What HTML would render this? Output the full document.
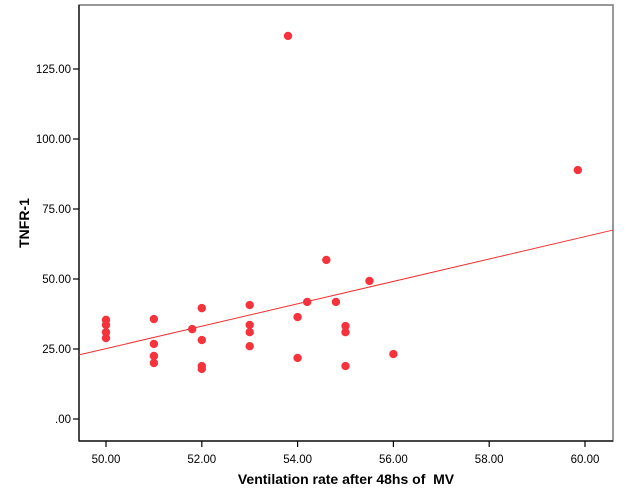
<!DOCTYPE html>
<html><head><meta charset="utf-8"><style>
html,body{margin:0;padding:0;background:#fff;}
svg{display:block;font-family:"Liberation Sans",Arial,sans-serif;}
</style></head><body>
<svg id="chart" width="626" height="501" viewBox="0 0 626 501">
<rect x="0" y="0" width="626" height="501" fill="#fff"/>
<g id="plot"></g>
</svg>
<script>
const xValues=[50,50,50,50,51,51,51,51,51.8,52,52,52,52,53,53,53,53,53.8,54,54,54.2,54.6,54.8,55,55,55,55.5,56,59.85];
const yValues=[35.4,33.6,31,28.9,35.7,26.8,22.5,20,32.1,39.6,28.2,18.9,17.9,40.7,33.6,31,26,136.8,36.4,21.8,41.8,56.8,41.8,33.2,31,18.9,49.3,23.2,88.9];
const xTicks=[50,52,54,56,58,60];
const yTicks=[0,25,50,75,100,125];
const fitSlope=4.0;
const fitIntercept=-174.86;
const ns="http://www.w3.org/2000/svg";
const L=79,R=613,T=5,B=441;
function sx(v){return 106+(v-50)*47.9;}
function sy(v){return 419-v*2.8;}
const g=document.getElementById('plot');
function mk(tag,attrs,parent){const e=document.createElementNS(ns,tag);for(const k in attrs)e.setAttribute(k,attrs[k]);(parent||g).appendChild(e);return e;}
let fr=mk('rect',{x:L,y:T,width:R-L,height:B-T,fill:'none',stroke:'#777','stroke-width':1.5});


let la=mk('line',{x1:L,y1:T,x2:L,y2:B,stroke:'#000','stroke-width':1.2});


let ba=mk('line',{x1:L,y1:B,x2:R,y2:B,stroke:'#000','stroke-width':1.2});


yTicks.forEach(v=>{
 const y=sy(v);
 let t=mk('line',{x1:L-6,y1:y,x2:L,y2:y,stroke:'#000','stroke-width':1.2});
 
 
 let lb=mk('text',{x:L-8,y:y+4,'text-anchor':'end','font-size':11.5,fill:'#000'});
 lb.textContent=v===0?'.00':v.toFixed(2);
 
 
});
xTicks.forEach(v=>{
 const x=sx(v);
 let t=mk('line',{x1:x,y1:B,x2:x,y2:B+6,stroke:'#000','stroke-width':1.2});
 
 
 let lb=mk('text',{x:x,y:B+22,'text-anchor':'middle','font-size':11.5,fill:'#000'});
 lb.textContent=v.toFixed(2);
 
 
});
const xa=(L-106)/47.9+50, xb=(R-106)/47.9+50;
let fl=mk('line',{x1:sx(xa),y1:sy(fitIntercept+fitSlope*xa),x2:sx(xb),y2:sy(fitIntercept+fitSlope*xb),stroke:'#f03030','stroke-width':1});


xValues.forEach((xv,i)=>{
 let c=mk('circle',{cx:sx(xv),cy:sy(yValues[i]),r:4.2,fill:'#f4333c'});
 
 
});
let xt=mk('text',{x:346,y:484,'text-anchor':'middle','font-size':14,'font-weight':'bold',fill:'#000'});
xt.textContent='Ventilation rate after 48hs of\u00a0 MV';


let yt=mk('text',{x:0,y:0,'text-anchor':'middle','font-size':14,'font-weight':'bold',fill:'#000',transform:'translate(29,223) rotate(-90)'});
yt.textContent='TNFR-1';


</script>
</body></html>
